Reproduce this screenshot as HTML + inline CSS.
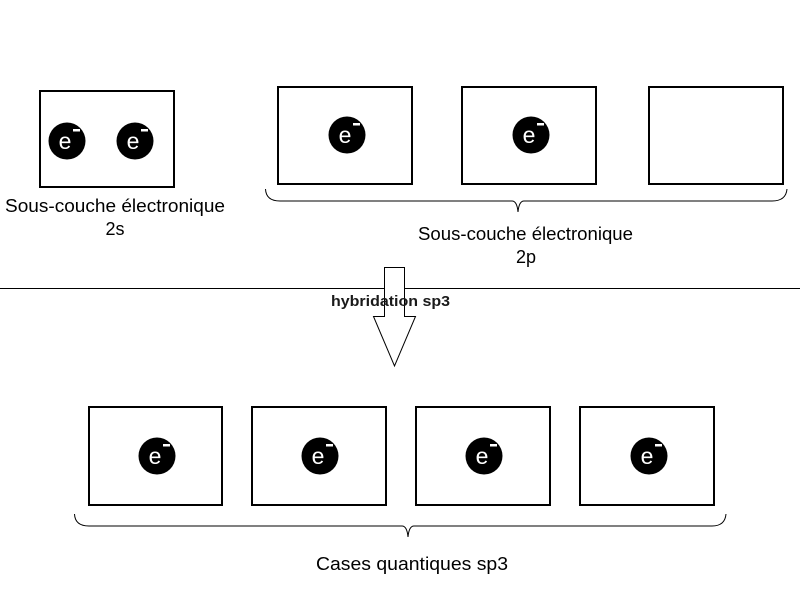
<!DOCTYPE html>
<html><head><meta charset="utf-8"><style>
html,body{margin:0;padding:0;background:#fff;width:800px;height:600px;overflow:hidden}
svg{display:block}
text{font-family:"Liberation Sans",Arial,sans-serif}
</style></head><body>
<svg width="800" height="600" viewBox="0 0 800 600" xmlns="http://www.w3.org/2000/svg">
<defs>
<g id="el">
<circle cx="0" cy="0" r="18.5" fill="#000"/>
<text x="-2" y="8" font-size="23" fill="#fff" text-anchor="middle">e</text>
<rect x="6" y="-12" width="7" height="2.5" fill="#fff"/>
</g>
</defs>
<g fill="none" stroke="#000" stroke-width="2">
<rect x="40" y="91" width="134" height="96"/>
<rect x="278" y="87" width="134" height="97"/>
<rect x="462" y="87" width="134" height="97"/>
<rect x="649" y="87" width="134" height="97"/>
<rect x="89" y="407" width="133" height="98"/>
<rect x="252" y="407" width="134" height="98"/>
<rect x="416" y="407" width="134" height="98"/>
<rect x="580" y="407" width="134" height="98"/>
</g>
<g fill="none" stroke="#000" stroke-width="1">
<path d="M265.5 189 Q266 201 280 201 L512 201 Q517 201 518 212 Q519 201 524 201 L772 201 Q786 201 787 189"/>
<path d="M74.5 514 Q75 526 89 526 L402 526 Q407 526 408 537 Q409 526 414 526 L712 526 Q725 526 726 514"/>
<line x1="0" y1="288.5" x2="800" y2="288.5"/>
<path d="M384.5 267.5 L404.5 267.5 L404.5 316.5 L415.5 316.5 L394.5 366 L373.5 316.5 L384.5 316.5 Z" fill="#fff"/>
</g>
<use href="#el" x="67" y="141"/>
<use href="#el" x="135" y="141"/>
<use href="#el" x="347" y="135"/>
<use href="#el" x="531" y="135"/>
<use href="#el" x="157" y="456"/>
<use href="#el" x="320" y="456"/>
<use href="#el" x="484" y="456"/>
<use href="#el" x="649" y="456"/>
<g font-size="18" fill="#000">
<text x="5" y="212" textLength="220" lengthAdjust="spacingAndGlyphs">Sous-couche électronique</text>
<text x="115" y="235" text-anchor="middle">2s</text>
<text x="418" y="240" textLength="215" lengthAdjust="spacingAndGlyphs">Sous-couche électronique</text>
<text x="526" y="263" text-anchor="middle">2p</text>
<text x="316" y="570" textLength="192" lengthAdjust="spacingAndGlyphs">Cases quantiques sp3</text>
</g>
<text x="331" y="306" font-size="15" font-weight="bold" fill="#1a1a1a" textLength="119" lengthAdjust="spacingAndGlyphs">hybridation sp3</text>
</svg>
</body></html>
